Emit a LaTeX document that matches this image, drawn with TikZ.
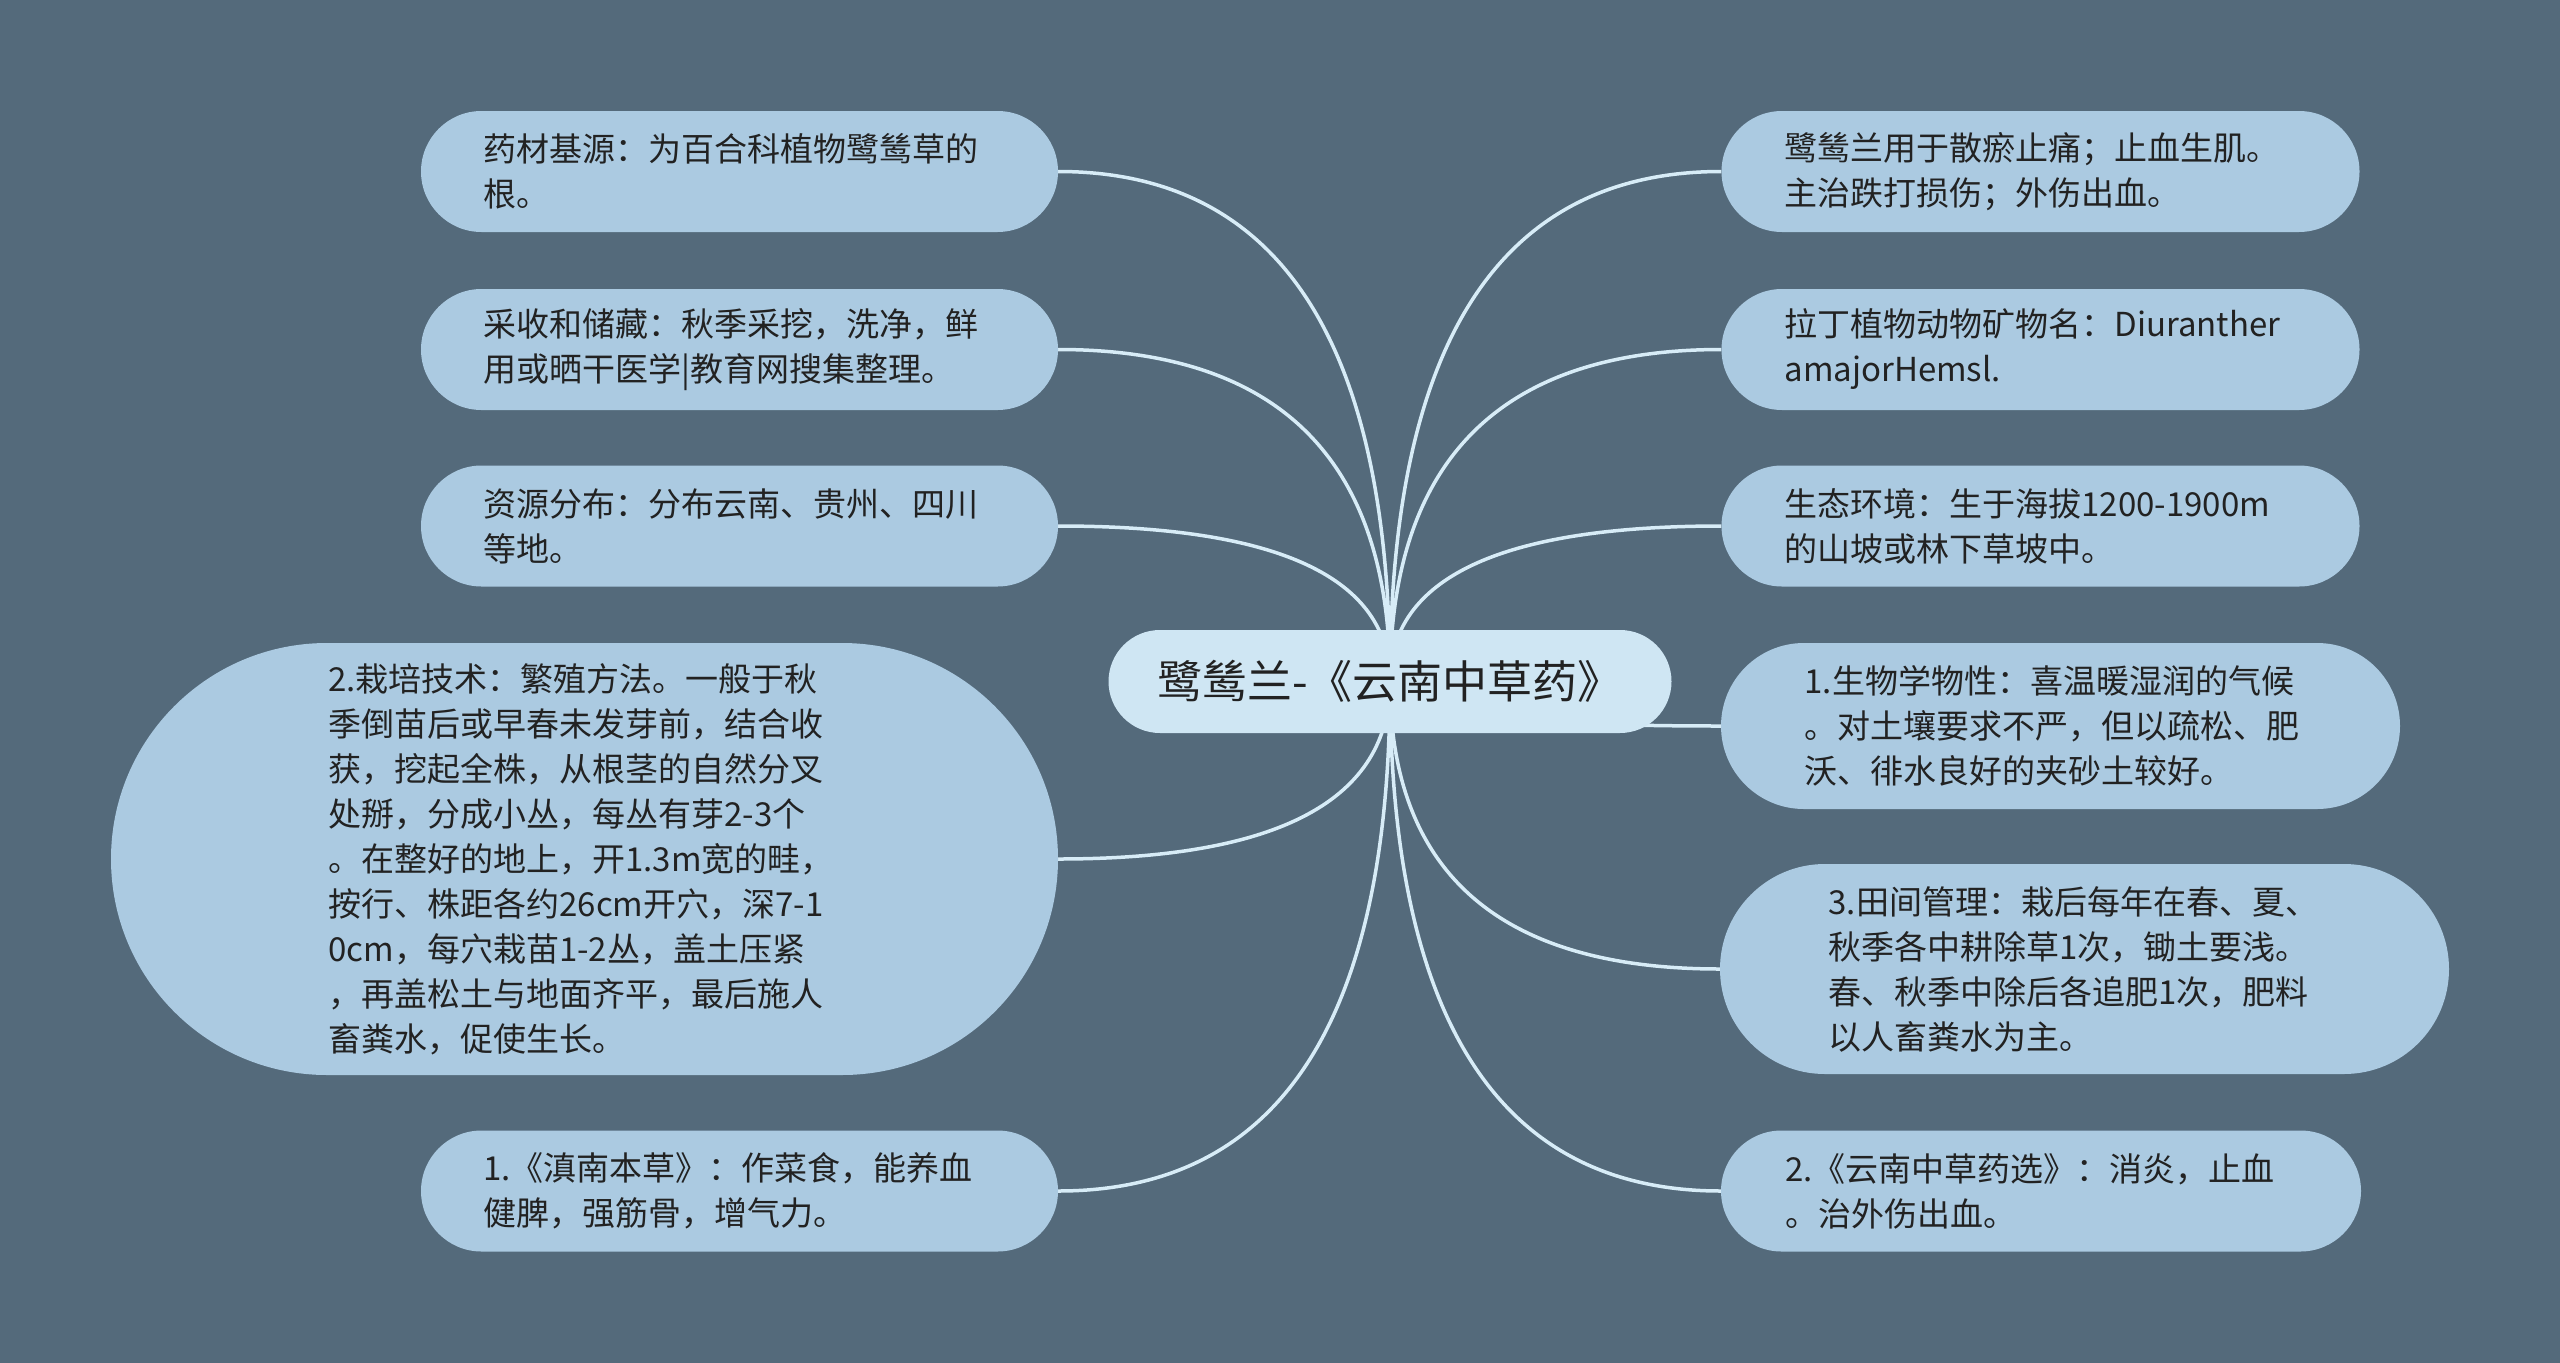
\documentclass[tikz,border=0pt]{standalone}
\usepackage{fontspec}
\setmainfont{Noto Sans CJK SC}
\usetikzlibrary{calc}
\definecolor{bgc}{HTML}{546A7B}
\definecolor{nodec}{HTML}{ABCAE1}
\definecolor{rootc}{HTML}{CFE6F3}
\definecolor{linec}{HTML}{D7ECF7}
\definecolor{textc}{HTML}{222222}
\hyphenpenalty=10000
\exhyphenpenalty=10000
\pgfdeclarelayer{background}
\pgfsetlayers{background,main}
\tikzset{
  leaf/.style={rectangle, fill=nodec, text=textc, align=left, inner sep=0pt,
    text width=512pt, font=\fontsize{33}{45}\selectfont},
  rootbox/.style={rectangle, fill=rootc, text=textc, align=center, inner sep=0pt,
    font=\fontsize{45}{50}\selectfont},
  conn/.style={draw=linec, line width=3.5pt},
}
\newcommand\mylink[2]{%
  \coordinate (k#1) at (root.center |- #1.#2);
  \draw[conn] (root.center) .. controls ($(root.center)!0.6667!(k#1)$) and ($(#1.#2)!0.6667!(k#1)$) .. (#1.#2);}
\begin{document}
\begin{tikzpicture}[x=1pt,y=-1pt]
\begin{pgfonlayer}{background}
\path[fill=bgc] (0,0) rectangle (2560,1363);
\end{pgfonlayer}
\useasboundingbox (0,0) rectangle (2560,1363);

\node[rootbox, minimum width=563pt, minimum height=103pt, rounded corners=51.5pt] (root) at (1390,681.5) {鹭鸶兰-《云南中草药》};

\node[leaf, minimum width=637pt, minimum height=121pt, rounded corners=60.5pt] (L1) at (739.5,171.5) {药材基源：为百合科植物鹭鸶草的\\根。};
\node[leaf, minimum width=637pt, minimum height=121pt, rounded corners=60.5pt] (L2) at (739.5,349.5) {采收和储藏：秋季采挖，洗净，鲜\\用或晒干医学|教育网搜集整理。};
\node[leaf, minimum width=637pt, minimum height=121pt, rounded corners=60.5pt] (L3) at (739.5,526) {资源分布：分布云南、贵州、四川\\等地。};
\node[leaf, minimum width=947pt, minimum height=432pt, rounded corners=215.9pt] (L4) at (584.5,859) {2.栽培技术：繁殖方法。一般于秋\\季倒苗后或早春未发芽前，结合收\\获，挖起全株，从根茎的自然分叉\\处掰，分成小丛，每丛有芽2-3个\\。在整好的地上，开1.3m宽的畦，\\按行、株距各约26cm开穴，深7-1\\0cm，每穴栽苗1-2丛，盖土压紧\\，再盖松土与地面齐平，最后施人\\畜粪水，促使生长。};
\node[leaf, minimum width=637pt, minimum height=121pt, rounded corners=60.5pt] (L5) at (739.5,1191) {1.《滇南本草》：作菜食，能养血\\健脾，强筋骨，增气力。};

\node[leaf, minimum width=638pt, minimum height=121pt, rounded corners=60.5pt] (R1) at (2040.5,171.5) {鹭鸶兰用于散瘀止痛；止血生肌。\\主治跌打损伤；外伤出血。};
\node[leaf, minimum width=638pt, minimum height=121pt, rounded corners=60.5pt] (R2) at (2040.5,349.5) {拉丁植物动物矿物名：Diuranther\\amajorHemsl.};
\node[leaf, minimum width=638pt, minimum height=121pt, rounded corners=60.5pt] (R3) at (2040.5,526) {生态环境：生于海拔1200-1900m\\的山坡或林下草坡中。};
\node[leaf, minimum width=679pt, minimum height=166pt, rounded corners=82.9pt] (R4) at (2060.5,726) {1.生物学物性：喜温暖湿润的气候\\。对土壤要求不严，但以疏松、肥\\沃、徘水良好的夹砂土较好。};
\node[leaf, minimum width=729pt, minimum height=210pt, rounded corners=104.9pt] (R5) at (2084.5,969) {3.田间管理：栽后每年在春、夏、\\秋季各中耕除草1次，锄土要浅。\\春、秋季中除后各追肥1次，肥料\\以人畜粪水为主。};
\node[leaf, minimum width=640pt, minimum height=121pt, rounded corners=60.5pt] (R6) at (2041,1191) {2.《云南中草药选》：消炎，止血\\。治外伤出血。};

\begin{pgfonlayer}{background}
\mylink{L1}{east}
\mylink{L2}{east}
\mylink{L3}{east}
\mylink{L4}{east}
\mylink{L5}{east}
\mylink{R1}{west}
\mylink{R2}{west}
\mylink{R3}{west}
\mylink{R4}{west}
\mylink{R5}{west}
\mylink{R6}{west}
\end{pgfonlayer}
\end{tikzpicture}
\end{document}
